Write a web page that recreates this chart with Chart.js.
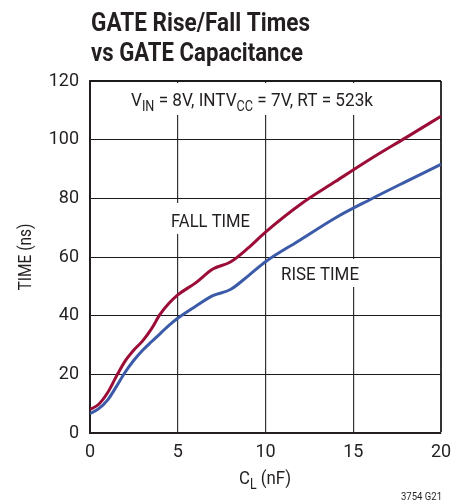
<!DOCTYPE html>
<html>
<head>
<meta charset="utf-8">
<script src="https://cdn.jsdelivr.net/npm/chart.js@4.4.0/dist/chart.umd.min.js"></script>
<style>
  html, body { margin: 0; padding: 0; background: #fff; }
</style>
</head>
<body>
<canvas id="chart" width="471" height="502"></canvas>
<script>
// load capacitance in nF
const capacitance = [0, 0.5, 1, 1.5, 2, 2.5, 3, 3.5, 4, 4.5, 5, 6, 7, 8, 9, 10, 12, 14, 16, 18, 20];
// times in ns
const fallTime = [8, 9.8, 13.7, 19.3, 24.5, 28.3, 31.4, 35.5, 40.5, 44.2, 47.1, 51.1, 55.9, 58.3, 63, 68.5, 78, 85.8, 93.5, 100.7, 108];
const riseTime = [6.6, 8.3, 11.2, 15.8, 20.7, 24.8, 28.2, 31.1, 33.9, 36.7, 39.1, 43.1, 46.8, 48.9, 53.5, 58.4, 65.9, 73.4, 79.7, 85.7, 91.6];
const xTicks = [0, 5, 10, 15, 20];
const yTicks = [0, 20, 40, 60, 80, 100, 120];

const FONT = "Roboto, 'Liberation Sans', sans-serif";
const INK = "#231f20";

// draw text made of [text, isSubscript] parts, squeezed to a given width
function drawParts(ctx, x, y, parts, size, width, opts = {}) {
    const weight = opts.bold ? "bold " : "";
    const subSize = Math.round(size * 0.72);
    let natural = 0;
    parts.forEach(([t, sub]) => {
        ctx.font = weight + (sub ? subSize : size) + "px " + FONT;
        natural += ctx.measureText(t).width;
    });
    const sx = width ? width / natural : 1;
    ctx.save();
    ctx.translate(x, y);
    if (opts.rotate) ctx.rotate(opts.rotate);
    ctx.scale(sx, 1);
    let cx = opts.center ? -natural / 2 : 0;
    ctx.textAlign = "left";
    ctx.textBaseline = "alphabetic";
    parts.forEach(([t, sub]) => {
        ctx.font = weight + (sub ? subSize : size) + "px " + FONT;
        ctx.fillText(t, cx, sub ? size * 0.25 : 0);
        cx += ctx.measureText(t).width;
    });
    ctx.restore();
}

const textPlugin = {
    id: "textPlugin",
    afterDatasetsDraw(chart) {
        const ctx = chart.ctx;
        ctx.save();

        // knock out the grid behind the in-plot labels
        ctx.fillStyle = "#fff";
        ctx.fillRect(126, 83, 252, 32);
        ctx.fillRect(166, 203, 90, 31);
        ctx.fillRect(276, 259, 88, 28);

        ctx.fillStyle = INK;
        drawParts(ctx, 131, 106, [["V"], ["IN", 1], [" = 8V, INTV"], ["CC", 1], [" = 7V, RT = 523k"]], 19, 242);
        drawParts(ctx, 171, 227, [["FALL TIME"]], 19, 79);
        drawParts(ctx, 281, 280, [["RISE TIME"]], 19, 78);

        // title
        drawParts(ctx, 91, 30.5, [["GATE Rise/Fall Times"]], 25, 219, { bold: true });
        drawParts(ctx, 91, 60.5, [["vs GATE Capacitance"]], 25, 212, { bold: true });

        // axis titles
        drawParts(ctx, 265, 484, [["C"], ["L", 1], [" (nF)"]], 19, 52, { center: true });
        drawParts(ctx, 31, 257, [["TIME (ns)"]], 18, 67, { center: true, rotate: -Math.PI / 2 });

        drawParts(ctx, 401, 500, [["3754 G21"]], 10, 41);
        ctx.restore();
    },
};

const ctx = document.getElementById("chart").getContext("2d");

new Chart(ctx, {
    type: "line",
    data: {
        datasets: [
            {
                label: "FALL TIME",
                data: capacitance.map((c, i) => ({ x: c, y: fallTime[i] })),
                borderColor: "#9b0d37",
                borderWidth: 3,
                pointRadius: 0,
                cubicInterpolationMode: "monotone",
                fill: false,
            },
            {
                label: "RISE TIME",
                data: capacitance.map((c, i) => ({ x: c, y: riseTime[i] })),
                borderColor: "#3b5ba8",
                borderWidth: 3,
                pointRadius: 0,
                cubicInterpolationMode: "monotone",
                fill: false,
            },
        ],
    },
    options: {
        responsive: false,
        animation: false,
        layout: { padding: { top: 81, right: 30, left: 0, bottom: 0 } },
        plugins: {
            legend: { display: false },
            tooltip: { enabled: false },
        },
        scales: {
            x: {
                type: "linear",
                min: 0,
                max: 20,
                afterBuildTicks: (s) => { s.ticks = xTicks.map((v) => ({ value: v })); },
                afterFit: (s) => { s.height = 69; },
                ticks: { color: INK, font: { family: FONT, size: 18 }, padding: 9, maxRotation: 0 },
                grid: {
                    drawTicks: false,
                    color: "#333",
                    lineWidth: (c) => (c.tick && c.tick.value === 20 ? 2 : 1.2),
                },
                border: { color: INK, width: 2 },
            },
            y: {
                min: 0,
                max: 120,
                afterBuildTicks: (s) => { s.ticks = yTicks.map((v) => ({ value: v })); },
                afterFit: (s) => { s.width = 90; },
                ticks: { color: INK, font: { family: FONT, size: 18 }, padding: 11 },
                grid: {
                    drawTicks: false,
                    color: "#1a1a1a",
                    lineWidth: (c) => (c.tick && c.tick.value === 120 ? 2 : 1),
                },
                border: { color: INK, width: 2 },
            },
        },
    },
    plugins: [textPlugin],
});
</script>
</body>
</html>
